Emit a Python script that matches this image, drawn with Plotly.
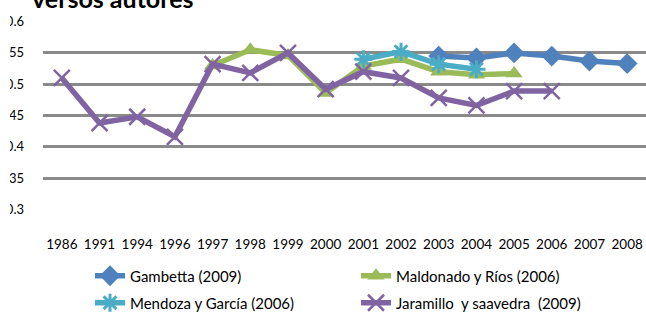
import plotly.graph_objects as go

years = ["1986", "1991", "1994", "1996", "1997", "1998", "1999", "2000",
         "2001", "2002", "2003", "2004", "2005", "2006", "2007", "2008"]

gambetta_years = ["2003", "2004", "2005", "2006", "2007", "2008"]
gambetta = [0.545, 0.542, 0.550, 0.545, 0.537, 0.533]

maldonado_years = ["1997", "1998", "1999", "2000", "2001", "2002", "2003", "2004", "2005"]
maldonado = [0.530, 0.555, 0.546, 0.486, 0.529, 0.540, 0.520, 0.515, 0.517]

mendoza_years = ["2001", "2002", "2003", "2004"]
mendoza = [0.540, 0.552, 0.532, 0.524]

jaramillo_years = years[:14]
jaramillo = [0.510, 0.438, 0.448, 0.416, 0.532, 0.518, 0.550, 0.492,
             0.520, 0.510, 0.478, 0.466, 0.489, 0.489]

y_ticks = [0.3, 0.35, 0.4, 0.45, 0.5, 0.55, 0.6]
y_tick_labels = ["0.3", "0.35", "0.4", "0.45", "0.5", "0.55", "0.6"]

FONT = "Lato"

fig = go.Figure()
fig.add_trace(go.Scatter(
    x=gambetta_years, y=gambetta, name="Gambetta (2009)", mode="lines+markers",
    line=dict(color="#4F81BD", width=5.5),
    marker=dict(symbol="diamond", size=16, color="#4F81BD"),
    legend="legend"))
fig.add_trace(go.Scatter(
    x=maldonado_years, y=maldonado, name="Maldonado y Ríos (2006)", mode="lines+markers",
    line=dict(color="#9BBB59", width=5.5),
    marker=dict(symbol="triangle-up", size=15, color="#9BBB59"),
    legend="legend"))
fig.add_trace(go.Scatter(
    x=mendoza_years, y=mendoza, name="Mendoza y García (2006)", mode="lines+markers",
    line=dict(color="#4BACC6", width=5.5),
    marker=dict(symbol="asterisk-open", size=15, color="#4BACC6",
                line=dict(color="#4BACC6", width=3)),
    legend="legend2"))
fig.add_trace(go.Scatter(
    x=jaramillo_years, y=jaramillo, name="Jaramillo  y saavedra  (2009)", mode="lines+markers",
    line=dict(color="#8064A2", width=5.5),
    marker=dict(symbol="x-thin-open", size=16, color="#8064A2",
                line=dict(color="#8064A2", width=2.5)),
    legend="legend2"))

W, H = 636, 314

leg_common = dict(orientation="h", xref="container", yref="container",
                  xanchor="left", yanchor="middle",
                  entrywidth=221, entrywidthmode="pixels",
                  font=dict(size=15, family=FONT),
                  bgcolor="rgba(0,0,0,0)", tracegroupgap=0, borderwidth=0)

fig.update_layout(
    width=W, height=H,
    margin=dict(l=33, r=0, t=21, b=104, autoexpand=False),
    paper_bgcolor="white", plot_bgcolor="white",
    font=dict(family=FONT, color="#000000"),
    xaxis=dict(type="category", categoryorder="array", categoryarray=years,
               range=[-0.5, 15.5], showgrid=False, showline=False, zeroline=False,
               automargin=False,
               ticks="", tickfont=dict(size=13.5, family=FONT), ticklabelstandoff=24),
    yaxis=dict(range=[0.299, 0.601], tickvals=y_ticks, ticktext=y_tick_labels,
               showgrid=True, gridcolor="#8a8a8a", gridwidth=3, automargin=False,
               showline=False, zeroline=False, ticks="",
               tickfont=dict(size=13, family=FONT), ticklabelstandoff=18),
    legend=dict(x=80 / W, y=1 - 276 / H, **leg_common),
    legend2=dict(x=80 / W, y=1 - 303 / H, **leg_common),
    annotations=[dict(text="<b>versos autores</b>", xref="paper", yref="paper",
                      x=0.116, y=1.032, xanchor="center", yanchor="bottom",
                      showarrow=False, font=dict(size=25, family=FONT, color="#000000"))],
)

fig.write_html("out.html", post_script="document.body.style.margin='0 0 0 10px';")
